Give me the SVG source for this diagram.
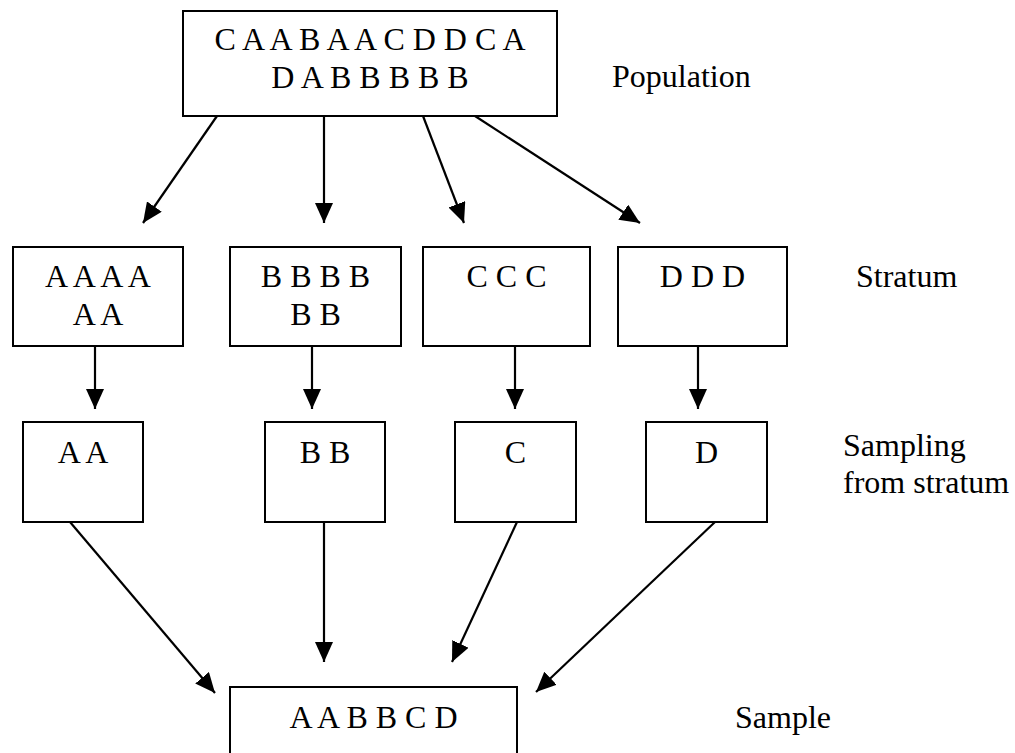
<svg xmlns="http://www.w3.org/2000/svg" width="1015" height="753" viewBox="0 0 1015 753">
  <style>
    text { font-family: "Liberation Serif", "Times New Roman", Times, serif; font-size: 32px; fill: #000000; }
    .box { fill: #ffffff; stroke: #000000; stroke-width: 2; }
    .c { text-anchor: middle; }
    .link { stroke: #000000; stroke-width: 2.2; fill: none; marker-end: url(#arrow); }
  </style>
  <defs>
    <marker id="arrow" markerUnits="userSpaceOnUse" markerWidth="20" markerHeight="18" viewBox="0 0 20 18" refX="20" refY="9" orient="auto">
      <path d="M0,0 L20,9 L0,18 Z" fill="#000000"/>
    </marker>
  </defs>
  <rect width="1015" height="753" fill="#ffffff"/>

  <!-- population -->
  <g id="population">
    <rect class="box" x="183" y="11" width="374" height="105"/>
    <text class="c" x="370" y="50">C A A B A A C D D C A</text>
    <text class="c" x="370" y="88">D A B B B B B</text>
  </g>

  <!-- strata -->
  <g id="stratum-a">
    <rect class="box" x="13" y="247" width="170" height="99"/>
    <text class="c" x="98" y="287">A A A A</text>
    <text class="c" x="98" y="325">A A</text>
  </g>
  <g id="stratum-b">
    <rect class="box" x="230" y="247" width="171" height="99"/>
    <text class="c" x="315.5" y="287">B B B B</text>
    <text class="c" x="315.5" y="325">B B</text>
  </g>
  <g id="stratum-c">
    <rect class="box" x="423" y="247" width="167" height="99"/>
    <text class="c" x="506.5" y="287">C C C</text>
  </g>
  <g id="stratum-d">
    <rect class="box" x="618" y="247" width="169" height="99"/>
    <text class="c" x="702.5" y="287">D D D</text>
  </g>

  <!-- samples drawn from each stratum -->
  <g id="sample-a">
    <rect class="box" x="23" y="422" width="120" height="100"/>
    <text class="c" x="83" y="463">A A</text>
  </g>
  <g id="sample-b">
    <rect class="box" x="265" y="422" width="120" height="100"/>
    <text class="c" x="325" y="463">B B</text>
  </g>
  <g id="sample-c">
    <rect class="box" x="455" y="422" width="121" height="100"/>
    <text class="c" x="515.5" y="463">C</text>
  </g>
  <g id="sample-d">
    <rect class="box" x="646" y="422" width="121" height="100"/>
    <text class="c" x="706.5" y="463">D</text>
  </g>

  <!-- combined sample -->
  <g id="sample">
    <rect class="box" x="230" y="687" width="287" height="80"/>
    <text class="c" x="373.5" y="728">A A B B C D</text>
  </g>

  <!-- row labels -->
  <g id="labels">
    <text x="612" y="87">Population</text>
    <text x="856" y="287">Stratum</text>
    <text x="843" y="456">Sampling</text>
    <text x="843" y="493">from stratum</text>
    <text x="735" y="728">Sample</text>
  </g>

  <!-- connectors -->
  <g id="connectors">
    <line class="link" x1="217" y1="116" x2="143" y2="223"/>
    <line class="link" x1="324" y1="116" x2="324" y2="223"/>
    <line class="link" x1="423" y1="116" x2="464" y2="223"/>
    <line class="link" x1="475" y1="116" x2="640" y2="223"/>

    <line class="link" x1="95" y1="346" x2="95" y2="409"/>
    <line class="link" x1="312" y1="346" x2="312" y2="409"/>
    <line class="link" x1="515" y1="346" x2="515" y2="409"/>
    <line class="link" x1="698" y1="346" x2="698" y2="409"/>

    <line class="link" x1="70" y1="522" x2="215" y2="693"/>
    <line class="link" x1="324" y1="522" x2="324" y2="662"/>
    <line class="link" x1="517" y1="522" x2="452" y2="662"/>
    <line class="link" x1="715" y1="522" x2="536" y2="692"/>
  </g>
</svg>
